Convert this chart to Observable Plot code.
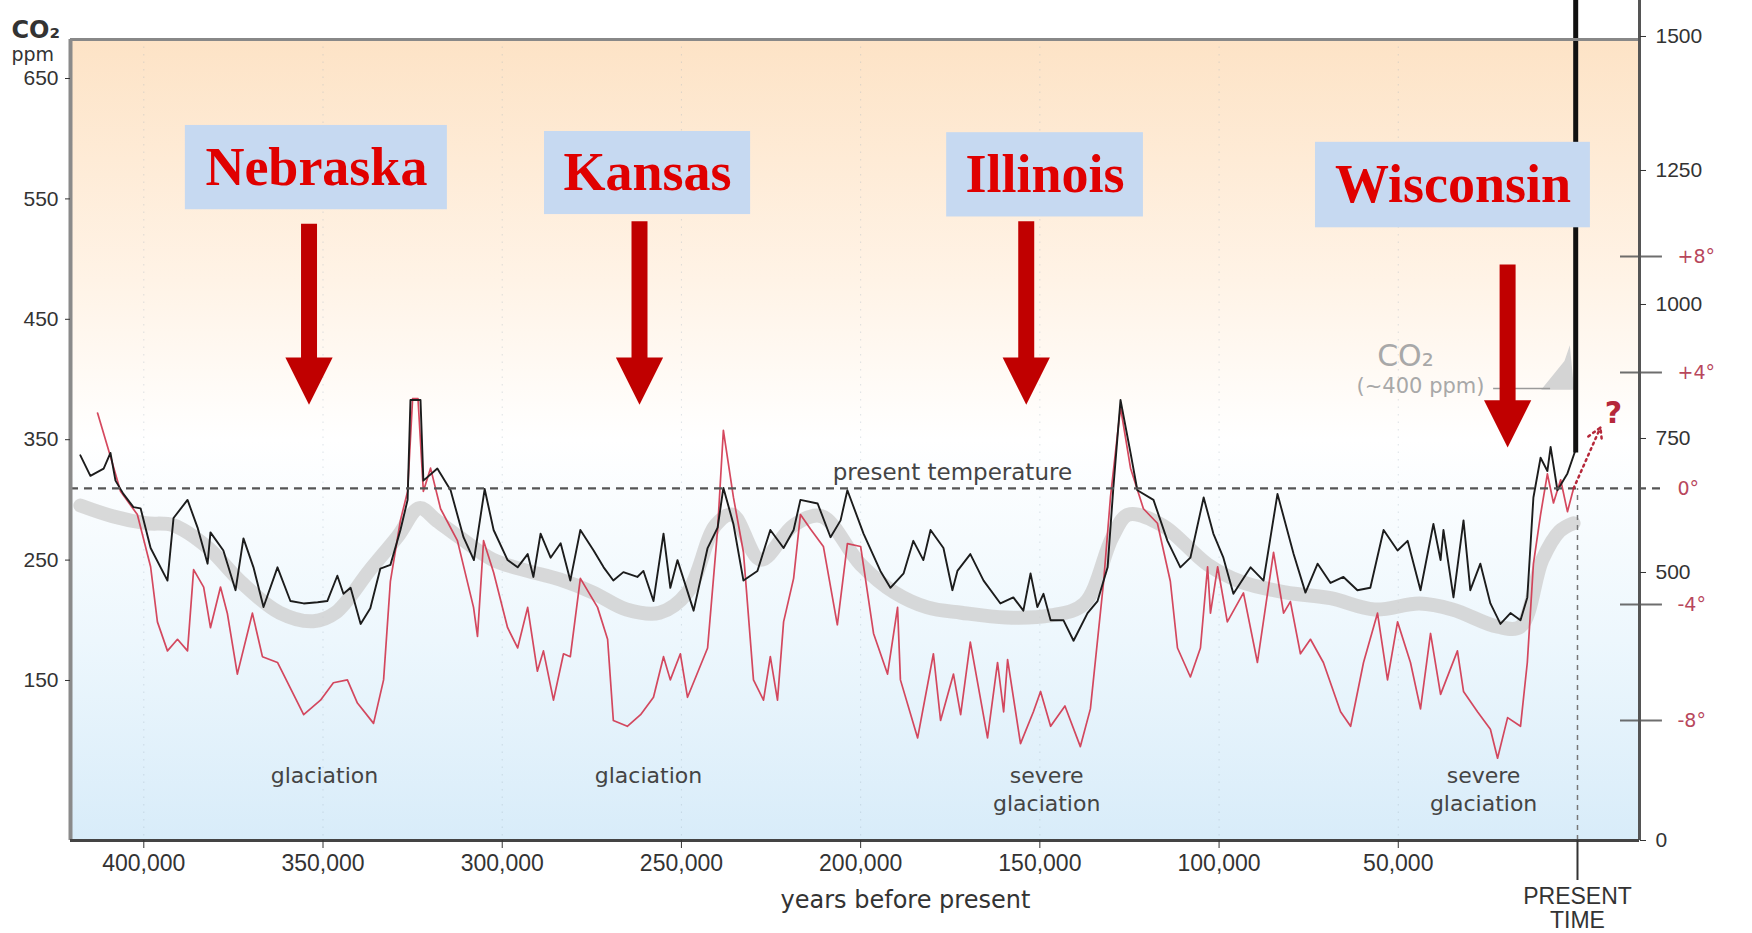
<!DOCTYPE html>
<html><head><meta charset="utf-8">
<script src="https://cdn.jsdelivr.net/npm/d3@7"></script>
<script src="https://cdn.jsdelivr.net/npm/@observablehq/plot@0.6"></script>
<style>
html,body{margin:0;padding:0;background:#fff;overflow:hidden}
#chart svg{display:block}
</style></head><body><div id="chart"></div>
<script>
// ---- tick labels ----
const xTicks = [400000, 350000, 300000, 250000, 200000, 150000, 100000, 50000];
const co2Ticks = [150, 250, 350, 450, 550, 650];
const ch4Ticks = [0, 500, 750, 1000, 1250, 1500];
const tempTicks = [8, 4, 0, -4, -8];

// ---- series: [years before present, value] ----
const co2Series = [[417700,337],[414900,320],[411200,326],[409300,339],[407900,316],[405700,305],[402900,294],[400900,293],[398100,260],[393400,233],[391700,285],[387800,300],[385000,277],[382200,247],[381400,273],[377800,258],[374400,225],[372200,268],[369400,244],[366600,211],[362700,244],[359100,216],[355400,214],[351500,215],[348800,216],[346000,237],[344300,222],[342300,227],[339500,197],[336800,210],[334000,243],[331200,246],[328400,275],[326400,300],[325600,383],[322800,383],[322000,316],[318100,326],[314400,308],[310800,269],[307900,250],[304900,309],[302400,275],[298500,250],[295700,244],[292900,255],[291300,236],[289300,272],[286500,252],[283700,264],[281000,233],[278200,275],[274500,258],[271700,244],[269000,233],[266200,240],[262300,236],[260600,241],[257800,216],[255000,272],[253100,227],[251100,250],[246600,208],[242700,260],[239900,277],[238300,310],[235500,280],[232700,233],[228800,241],[225200,275],[221500,260],[218700,275],[216800,300],[212000,297],[208400,269],[205600,283],[203700,308],[199200,272],[194500,241],[191700,227],[188000,239],[185300,266],[182500,250],[180500,275],[176900,260],[174400,225],[173000,241],[169400,255],[165700,233],[161000,214],[157400,219],[154600,208],[152600,239],[150700,211],[149000,222],[147000,200],[143400,200],[140600,183],[136700,206],[133900,216],[131100,244],[129500,310],[127500,383],[124700,339],[122800,308],[118300,300],[114400,266],[110800,244],[108000,252],[104300,302],[101600,272],[98800,252],[96000,222],[91200,244],[87600,233],[83700,305],[79200,255],[75900,223],[72500,247],[68900,231],[65300,236],[61400,225],[57800,227],[54100,275],[50200,258],[47400,266],[43800,225],[40200,280],[38200,250],[37400,275],[34600,219],[31800,283],[29900,225],[27100,247],[24300,214],[21500,197],[18700,206],[15900,200],[14000,219],[12300,302],[10300,335],[8400,324],[7500,344],[5600,308],[2800,322],[600,341]];

const tempSeries = [[412900,2.6],[409300,1.1],[406500,-0.1],[401800,-0.9],[398100,-2.7],[396200,-4.6],[393400,-5.6],[390600,-5.2],[387800,-5.6],[386100,-2.8],[383300,-3.4],[381400,-4.8],[378600,-3.4],[376700,-4.3],[373900,-6.4],[369700,-4.3],[366900,-5.8],[362700,-6.0],[355400,-7.8],[350700,-7.3],[347100,-6.7],[343200,-6.6],[340400,-7.4],[335900,-8.1],[333100,-6.6],[331200,-3.2],[328400,-1.1],[326400,-0.1],[325000,3.1],[323500,3.1],[322000,-0.1],[320000,0.7],[317200,-0.7],[312500,-1.8],[308000,-4.1],[306900,-5.1],[305200,-1.8],[302400,-2.9],[298500,-4.8],[295700,-5.5],[292900,-4.1],[290200,-6.3],[288500,-5.6],[285700,-7.3],[282900,-5.7],[281000,-5.8],[278200,-3.1],[273400,-4.1],[270600,-5.2],[269000,-8.0],[265100,-8.2],[261400,-7.8],[257800,-7.2],[255000,-5.8],[253100,-6.6],[250300,-5.7],[248300,-7.2],[242700,-5.5],[239900,-1.4],[238300,2.0],[235500,-0.3],[232700,-2.2],[229900,-6.6],[227100,-7.3],[225200,-5.8],[223200,-7.3],[221500,-4.6],[218700,-3.1],[216800,-0.9],[214000,-1.4],[210400,-2.0],[206500,-4.7],[203700,-1.9],[200000,-2.0],[196400,-5.0],[192500,-6.4],[189700,-4.1],[188900,-6.6],[184100,-8.6],[179700,-5.7],[177700,-8.0],[174100,-6.4],[172100,-7.8],[169400,-5.3],[164600,-8.6],[161800,-6.0],[160100,-7.7],[159000,-5.9],[155400,-8.8],[151800,-7.7],[149800,-7.0],[147000,-8.2],[143000,-7.5],[138700,-8.9],[135900,-7.6],[132200,-3.2],[130300,-0.3],[127500,2.8],[124700,0.7],[121100,-0.7],[117200,-1.2],[113600,-3.2],[111600,-5.5],[108000,-6.5],[105200,-5.5],[103200,-2.7],[102400,-4.3],[100400,-2.7],[97700,-4.6],[93200,-3.6],[89300,-6.0],[84800,-2.2],[82000,-4.3],[80100,-3.9],[77300,-5.7],[74500,-5.2],[70900,-6.0],[66100,-7.7],[63300,-8.2],[59700,-6.0],[55800,-4.3],[53000,-6.6],[50200,-4.6],[46600,-6.0],[43800,-7.6],[41000,-5.0],[38200,-7.1],[33500,-5.6],[31800,-7.0],[27900,-7.7],[24300,-8.3],[22300,-9.3],[19500,-7.9],[15900,-8.2],[14000,-6.0],[12300,-2.6],[10300,-0.9],[8400,0.5],[6700,-0.5],[4700,0.3],[2800,-0.8],[1100,0.0]];

const ch4Series = [[417700,625],[408700,605],[399500,592],[391700,588],[382200,547],[373000,483],[362100,425],[352700,409],[346500,425],[337000,504],[329200,567],[323100,620],[318300,597],[312200,567],[302700,524],[293500,504],[284000,487],[274800,463],[265300,431],[256100,425],[248300,463],[240500,588],[235800,608],[227900,524],[218700,588],[210900,605],[200000,515],[190600,463],[181400,435],[171900,425],[159300,416],[147000,420],[137600,442],[129700,567],[125300,608],[115800,588],[103200,515],[94000,483],[81500,463],[68900,452],[56600,431],[44100,442],[34900,431],[22300,399],[15900,399],[9800,524],[5000,577],[1100,592]];

// modern CO2 spike (ppm)
const co2Spike = [[10000,391],[3500,415],[2000,428],[800,391]];
const modernCO2 = [{year: 500, from: 339, to: 715}];
const projection = [{x1: 1100, t1: 0.0, x2: -6400, t2: 2.1}];

// ---- annotations ----
const glaciations = [
  {year: 349600, label: "glaciation"},
  {year: 259200, label: "glaciation"},
  {year: 148100, label: "severe\nglaciation"},
  {year: 26200, label: "severe\nglaciation"}
];
const boxes = [
  {name: "Nebraska", x1: 388400, x2: 315300, y1: 541, y2: 611},
  {name: "Kansas", x1: 288200, x2: 230700, y1: 537, y2: 606},
  {name: "Illinois", x1: 176000, x2: 121100, y1: 535, y2: 605},
  {name: "Wisconsin", x1: 73100, x2: -3600, y1: 526, y2: 597}
];
const arrows = [
  {year: 353900, top: 529, base: 414, tip: 379},
  {year: 261700, top: 531, base: 414, tip: 379},
  {year: 153800, top: 531, base: 414, tip: 379},
  {year: 19500, top: 495, base: 379, tip: 343.5}
];

// ---- axis mappings onto the CO2 (ppm) scale ----
const tempToY = t => 309.5 + 24.09 * t;
const ch4ToY = v => 17.1 + 0.4452 * v;
const yToCh4 = y => (y - 17.1) / 0.4452;

const X0 = 420450, X1 = -17300, Y0 = 17.1, Y1 = 682.4;
const RED = "#c00000";

const downHead = {
  draw(ctx, size) {
    const r = Math.sqrt(size / Math.PI);
    const w = 2.7 * r, h = 2.7 * r;
    ctx.moveTo(0, 0);
    ctx.lineTo(w / 2, -h);
    ctx.lineTo(-w / 2, -h);
    ctx.closePath();
  }
};

const sans = "DejaVu Sans, Liberation Sans, sans-serif";

const chart = Plot.plot({
  width: 1752, height: 933,
  marginLeft: 70, marginRight: 113, marginTop: 39, marginBottom: 93,
  x: {domain: [X0, X1]},
  y: {domain: [Y0, Y1]},
  style: {fontFamily: "Liberation Sans, Arial, sans-serif", background: "transparent", overflow: "visible"},
  marks: [
    Plot.frame({fill: "url(#bgGrad)", stroke: "none"}),
    Plot.ruleX(xTicks, {stroke: "#9fb0bc", strokeOpacity: 0.35, strokeDasharray: "1.5,6"}),
    // CH4 gray band
    Plot.line(ch4Series, {x: d => d[0], y: d => ch4ToY(d[1]), stroke: "#d0d0d0", strokeWidth: 14, strokeOpacity: 0.8, curve: "catmull-rom", strokeLinejoin: "round", strokeLinecap: "round"}),
    // modern CO2 spike
    Plot.areaY(co2Spike, {x: d => d[0], y1: 391, y2: d => d[1], fill: "#d4d4d4"}),
    Plot.ruleY([392.5], {x1: 23400, x2: 7500, stroke: "#9a9a9a", strokeWidth: 1.5}),
    Plot.text(["CO₂"], {x: 48000, y: 419, fontSize: 30, fill: "#a8a8a8", fontFamily: sans}),
    Plot.text(["(~400 ppm)"], {x: 43800, y: 394, fontSize: 21, fill: "#a8a8a8", fontFamily: sans}),
    // temperature (red)
    Plot.line(tempSeries, {x: d => d[0], y: d => tempToY(d[1]), stroke: "#d0344c", strokeWidth: 1.7, strokeOpacity: 0.9}),
    // CO2 (black)
    Plot.line(co2Series, {x: d => d[0], y: d => d[1], stroke: "#1c1c1c", strokeWidth: 1.9}),
    // present temperature dashed line
    Plot.ruleY([0], {y: tempToY, x1: X0, x2: -23700, stroke: "#555", strokeWidth: 2.2, strokeDasharray: "8,6"}),
    Plot.text(["present temperature"], {x: 174400, y: 323, fontSize: 23, fill: "#444", fontFamily: sans}),
    // present time dashed vertical
    Plot.ruleX([0], {y1: Y0, y2: tempToY(0), stroke: "#777", strokeWidth: 1.5, strokeDasharray: "5,5"}),
    // modern CO2 rise
    Plot.ruleX(modernCO2, {x: "year", y1: "from", y2: "to", stroke: "#111", strokeWidth: 5}),
    // projected temperature
    Plot.arrow(projection, {x1: "x1", y1: d => tempToY(d.t1), x2: "x2", y2: d => tempToY(d.t2), stroke: "#b5283a", strokeWidth: 2.5, strokeDasharray: "2,4", headLength: 9}),
    Plot.text(["?"], {x: -10000, y: tempToY(2.6), fontSize: 30, fontWeight: "bold", fill: "#b5283a", fontFamily: sans}),
    // glaciation labels
    Plot.text(glaciations, {x: "year", y: 81, text: "label", lineAnchor: "top", lineHeight: 1.25, fontSize: 22, fill: "#444", fontFamily: sans}),
    // temperature ticks & labels
    Plot.ruleY(tempTicks.filter(t => t !== 0), {y: tempToY, x1: -12000, x2: -23700, stroke: "#555", strokeWidth: 2, strokeOpacity: 0.85}),
    Plot.text(tempTicks, {x: -27900, y: tempToY, text: t => (t > 0 ? "+" : t < 0 ? "-" : "") + Math.abs(t) + "°", textAnchor: "start", fontSize: 19, fill: "#b8475c", fontFamily: sans}),
    // frame lines
    Plot.ruleY([Y1], {x1: X0, x2: X1, stroke: "#888", strokeWidth: 3}),
    Plot.ruleX([X0], {y1: Y0, y2: Y1, stroke: "#8a8a8a", strokeWidth: 4}),
    Plot.ruleX([X1], {y1: Y0, y2: 715, stroke: "#555", strokeWidth: 3}),
    Plot.ruleY([Y0], {x1: X0, x2: X1, stroke: "#444", strokeWidth: 3}),
    // axes
    Plot.axisX(xTicks, {tickFormat: d3.format(","), tickSize: 8, tickPadding: 6, fontSize: 23, color: "#333", label: null}),
    Plot.axisX([0], {tickSize: 40, tickFormat: () => "", color: "#333", strokeWidth: 2, label: null}),
    Plot.axisY(co2Ticks, {anchor: "left", tickSize: 5, tickPadding: 7, fontSize: 21, color: "#333", label: null}),
    Plot.axisY(ch4Ticks.map(ch4ToY), {anchor: "right", tickFormat: d => String(Math.round(yToCh4(d))), tickSize: 6, tickPadding: 10, fontSize: 21, color: "#333", label: null}),
    Plot.text(["CO₂"], {frameAnchor: "top-left", dx: -59, dy: -19, textAnchor: "start", fontSize: 24, fontWeight: "bold", fill: "#333", fontFamily: sans}),
    Plot.text(["ppm"], {frameAnchor: "top-left", dx: -59, dy: 8, textAnchor: "start", fontSize: 19, fill: "#333", fontFamily: sans}),
    Plot.text(["years before present"], {frameAnchor: "bottom", x: 187500, dy: 67, fontSize: 24, fill: "#333", fontFamily: sans}),
    Plot.text(["PRESENT\nTIME"], {frameAnchor: "bottom", x: 0, dy: 46, lineAnchor: "top", lineHeight: 1.05, fontSize: 23, fill: "#333"}),
    // glaciation-stage boxes and arrows
    Plot.rect(boxes, {x1: "x1", x2: "x2", y1: "y1", y2: "y2", fill: "#c6d9f1"}),
    Plot.text(boxes, {x: d => (d.x1 + d.x2) / 2, y: d => (d.y1 + d.y2) / 2, text: "name", fontFamily: "Liberation Serif, Times New Roman, serif", fontWeight: "bold", fontSize: 54, fill: "#e00000"}),
    Plot.ruleX(arrows, {x: "year", y1: "top", y2: "base", stroke: RED, strokeWidth: 16}),
    Plot.dot(arrows, {x: "year", y: "tip", symbol: downHead, r: 17.5, fill: RED, stroke: "none"})
  ]
});

const svg = d3.select(chart);
const grad = svg.insert("defs", ":first-child").append("linearGradient")
  .attr("id", "bgGrad").attr("x1", 0).attr("y1", 0).attr("x2", 0).attr("y2", 1);
[[0, "#fde3c6"], [0.3, "#fff3e6"], [0.5, "#ffffff"], [0.75, "#edf7fd"], [1, "#d8ecf9"]]
  .forEach(([o, c]) => grad.append("stop").attr("offset", o).attr("stop-color", c));

document.getElementById("chart").appendChild(chart);
</script></body></html>
